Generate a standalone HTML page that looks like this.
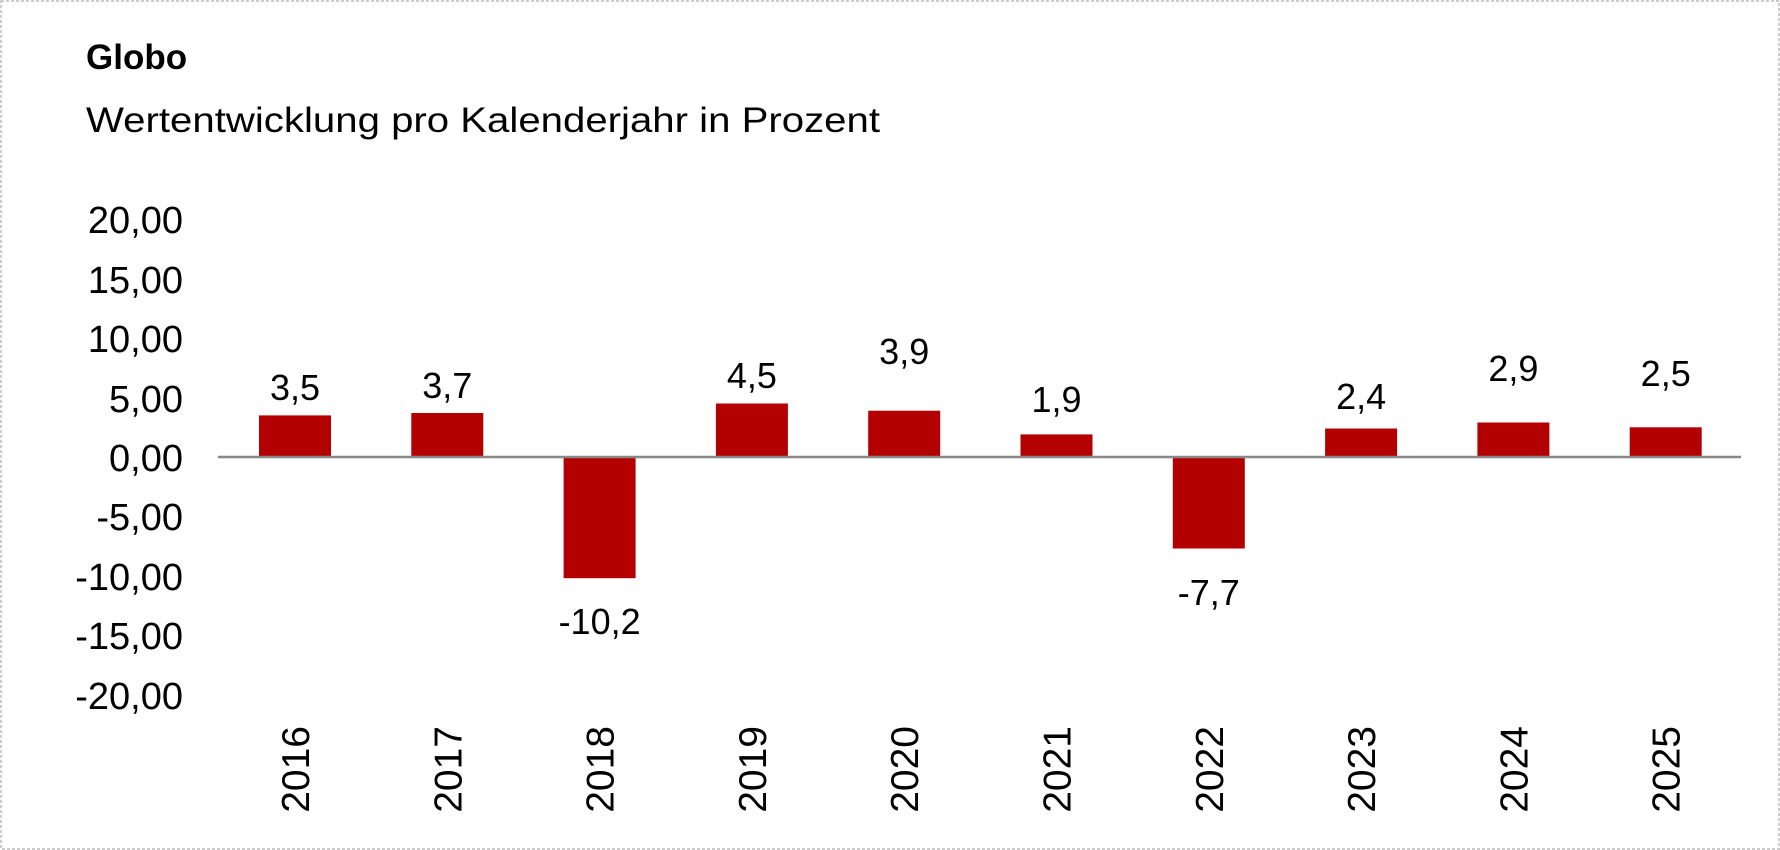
<!DOCTYPE html>
<html><head><meta charset="utf-8"><style>
html,body{margin:0;padding:0;background:#fff;}
svg{display:block;font-family:"Liberation Sans",sans-serif;}
</style></head><body>
<svg width="1780" height="850" viewBox="0 0 1780 850">
<rect x="1" y="1" width="1778" height="848" fill="#fff" stroke="#ccc" stroke-width="2" stroke-dasharray="3,2"/>
<text x="86" y="69" font-size="35" font-weight="bold" fill="#000">Globo</text>
<text x="86" y="132" font-size="35" fill="#000" textLength="794" lengthAdjust="spacingAndGlyphs">Wertentwicklung pro Kalenderjahr in Prozent</text>
<g font-size="38" fill="#000" text-anchor="end">
<text x="183" y="233">20,00</text>
<text x="183" y="293">15,00</text>
<text x="183" y="352">10,00</text>
<text x="183" y="412">5,00</text>
<text x="183" y="471">0,00</text>
<text x="183" y="530">-5,00</text>
<text x="183" y="590">-10,00</text>
<text x="183" y="649">-15,00</text>
<text x="183" y="709">-20,00</text>
</g>
<g fill="#b30000">
<rect x="259" y="415.4" width="72" height="41.6"/>
<rect x="411.3" y="413" width="72" height="44"/>
<rect x="563.6" y="457" width="72" height="121.2"/>
<rect x="715.9" y="403.5" width="72" height="53.5"/>
<rect x="868.2" y="410.7" width="72" height="46.3"/>
<rect x="1020.5" y="434.4" width="72" height="22.6"/>
<rect x="1172.8" y="457" width="72" height="91.5"/>
<rect x="1325.1" y="428.5" width="72" height="28.5"/>
<rect x="1477.4" y="422.5" width="72" height="34.5"/>
<rect x="1629.7" y="427.3" width="72" height="29.7"/>
</g>
<line x1="218" y1="457" x2="1741" y2="457" stroke="#888" stroke-width="2.5"/>
<g font-size="36" fill="#000" text-anchor="middle">
<text x="295" y="400">3,5</text>
<text x="447.3" y="398">3,7</text>
<text x="599.6" y="634">-10,2</text>
<text x="751.9" y="388">4,5</text>
<text x="904.2" y="364">3,9</text>
<text x="1056.5" y="412">1,9</text>
<text x="1208.8" y="605">-7,7</text>
<text x="1361.1" y="409">2,4</text>
<text x="1513.4" y="381">2,9</text>
<text x="1665.7" y="386">2,5</text>
</g>
<g font-size="39" fill="#000" text-anchor="end">
<text transform="translate(309,726) rotate(-90)">2016</text>
<text transform="translate(461.3,726) rotate(-90)">2017</text>
<text transform="translate(613.6,726) rotate(-90)">2018</text>
<text transform="translate(765.9,726) rotate(-90)">2019</text>
<text transform="translate(918.2,726) rotate(-90)">2020</text>
<text transform="translate(1070.5,726) rotate(-90)">2021</text>
<text transform="translate(1222.8,726) rotate(-90)">2022</text>
<text transform="translate(1375.1,726) rotate(-90)">2023</text>
<text transform="translate(1527.4,726) rotate(-90)">2024</text>
<text transform="translate(1679.7,726) rotate(-90)">2025</text>
</g>
</svg>
</body></html>
